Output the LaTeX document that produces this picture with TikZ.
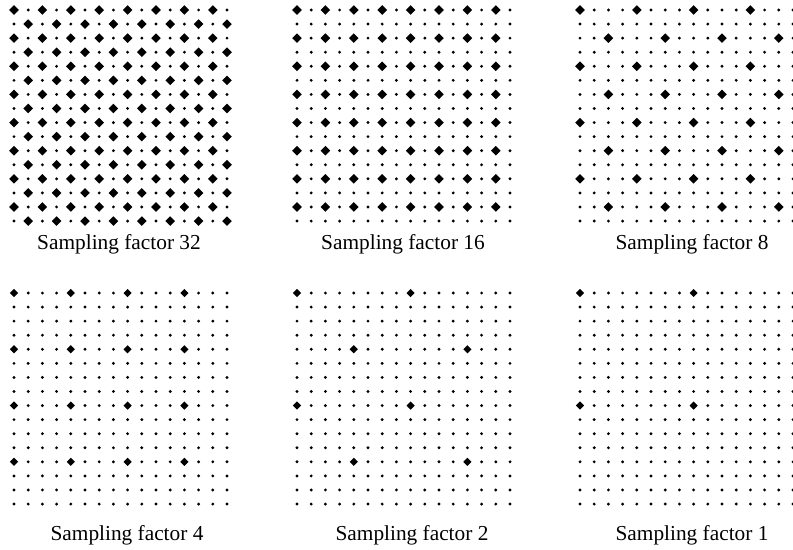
\documentclass[tikz,border=0pt]{standalone}
\usepackage{fontspec}
\setmainfont{Liberation Serif}
\usepackage{tikz}
\tikzset{
    caption/.style={anchor=base, inner sep=0pt, font=\fontsize{16}{19}\selectfont},
    smalldot/.style={fill=black},
    bigdot/.style={fill=black}
}

\begin{document}
\begin{tikzpicture}[x=0.75pt, y=-0.75pt]
        % Fix the page size
        \useasboundingbox (0,0) rectangle (793,550);

        % Draw the six sampling grids
        \foreach \px/\py/\s/\m/\r in {14/10/1/2/4.8, 297/10/2/2/4.8, 580/10/2/4/4.8, 14/293/4/4/4.1, 297/293/4/8/4.1, 580/293/8/8/4.1}{
            \foreach \i in {0,...,15}{
                \foreach \j in {0,...,15}{
                    \pgfmathtruncatemacro{\isbig}{(mod(\i,\s)==0)&&(mod(\j,\s)==0)&&(mod(\i+\j,\m)==0)}
                    \ifnum\isbig=1
                        \fill[bigdot] (\px+14.2*\i, \py+14.07*\j) +(\r,0) -- +(0,\r) -- +(-\r,0) -- +(0,-\r) -- cycle;
                    \else
                        \fill[smalldot] (\px+14.2*\i, \py+14.07*\j) circle (1.2pt);
                    \fi
                }
            }
        }

        % Label each grid
        \node[caption] (cap32) at (119,249) {Sampling factor 32};
        \node[caption] (cap16) at (403,249) {Sampling factor 16};
        \node[caption] (cap8) at (692,249) {Sampling factor 8};
        \node[caption] (cap4) at (127,540) {Sampling factor 4};
        \node[caption] (cap2) at (412,540) {Sampling factor 2};
        \node[caption] (cap1) at (692,540) {Sampling factor 1};
\end{tikzpicture}
\end{document}
